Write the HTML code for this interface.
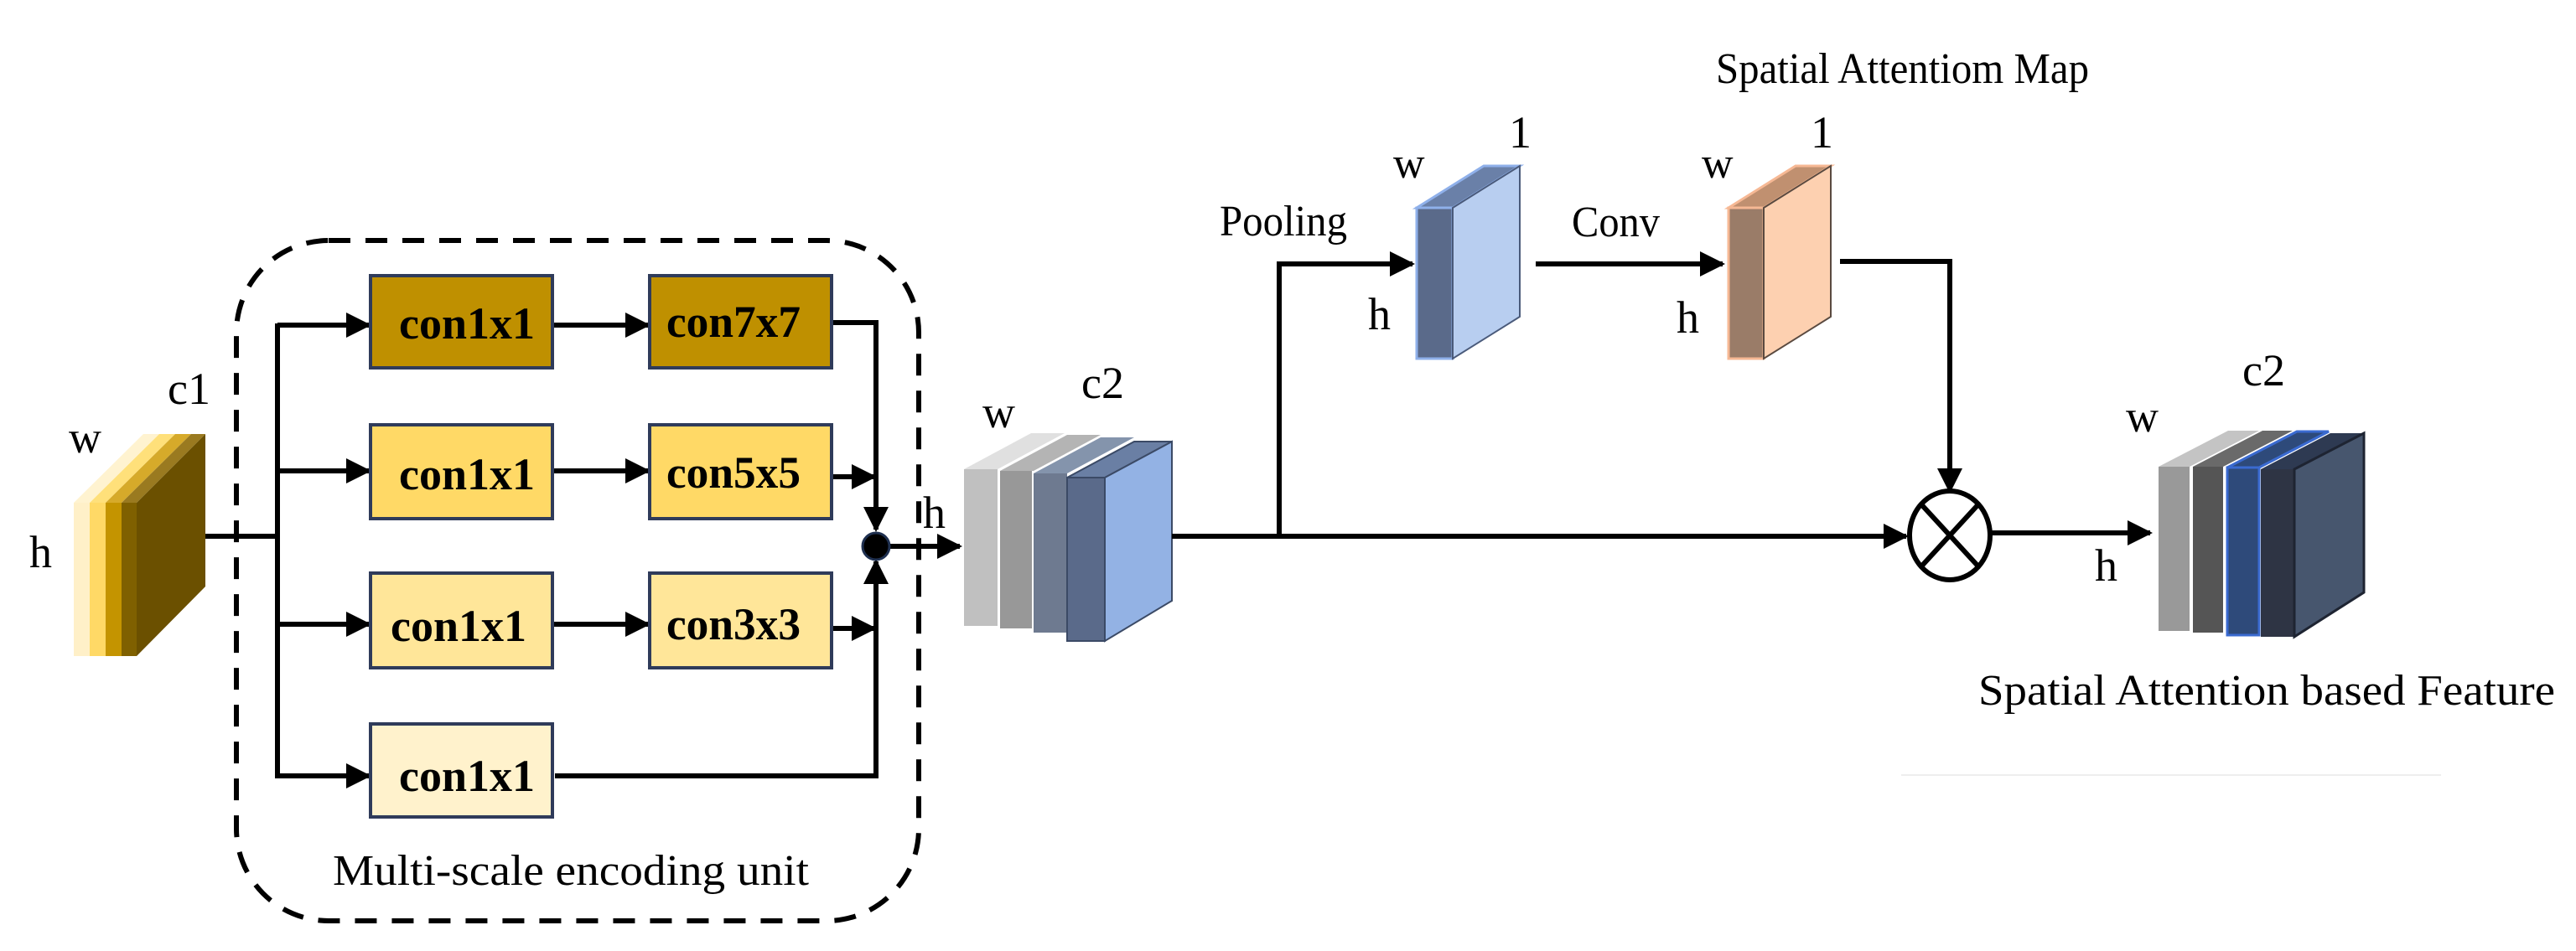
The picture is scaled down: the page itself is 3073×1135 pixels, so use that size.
<!DOCTYPE html>
<html><head><meta charset="utf-8"><style>html,body{margin:0;padding:0;background:#fff}svg{display:block}</style></head>
<body>
<svg width="3073" height="1135" viewBox="0 0 3073 1135" xmlns="http://www.w3.org/2000/svg" font-family="'Liberation Serif', serif">
<defs>
<marker id="a" viewBox="0 0 10 10" refX="9" refY="5" markerWidth="5" markerHeight="5" orient="auto" markerUnits="strokeWidth"><path d="M0,0 L10,5 L0,10 z" fill="#000"/></marker>
</defs>
<rect x="282" y="287" width="814" height="812" rx="110" fill="none" stroke="#000" stroke-width="6" stroke-dasharray="26,18"/>

<g>
<polygon points="88,600 171,518 190,518 107,600" fill="#fff3d0"/>
<rect x="88" y="600" width="19" height="183" fill="#fff0c8"/>
<polygon points="107,600 190,518 209,518 126,600" fill="#ffe07a"/>
<rect x="107" y="600" width="19" height="183" fill="#ffd966"/>
<polygon points="126,600 209,518 228,518 145,600" fill="#d6aa2a"/>
<rect x="126" y="600" width="19" height="183" fill="#c49400"/>
<polygon points="145,600 228,518 245,518 163,600" fill="#9a7a20"/>
<rect x="145" y="600" width="18" height="183" fill="#7f6000"/>
<polygon points="163,600 245,518 245,700 163,783" fill="#6b5000"/>
</g>
<text x="200" y="482" font-size="54">c1</text>
<text x="82" y="540" font-size="54">w</text>
<text x="35" y="677" font-size="54">h</text>

<g stroke="#000" stroke-width="6" fill="none">
<line x1="245" y1="640" x2="334" y2="640"/>
<line x1="331" y1="386" x2="331" y2="929"/>
<line x1="331" y1="388" x2="440" y2="388" marker-end="url(#a)"/>
<line x1="331" y1="562" x2="440" y2="562" marker-end="url(#a)"/>
<line x1="331" y1="745" x2="440" y2="745" marker-end="url(#a)"/>
<line x1="331" y1="926" x2="440" y2="926" marker-end="url(#a)"/>
<line x1="659" y1="388" x2="773" y2="388" marker-end="url(#a)"/>
<line x1="659" y1="562" x2="773" y2="562" marker-end="url(#a)"/>
<line x1="659" y1="745" x2="773" y2="745" marker-end="url(#a)"/>
<polyline points="992,385 1045,385 1045,632" marker-end="url(#a)"/>
<line x1="992" y1="569" x2="1043" y2="569" marker-end="url(#a)"/>
<line x1="992" y1="750" x2="1043" y2="750" marker-end="url(#a)"/>
<polyline points="662,926 1045,926 1045,670" marker-end="url(#a)"/>
<line x1="1045" y1="652" x2="1145" y2="652" marker-end="url(#a)"/>
</g>
<circle cx="1045" cy="652" r="16" fill="#000" stroke="#1f3050" stroke-width="3"/>

<g stroke="#2f3b5a" stroke-width="4">
<rect x="442" y="329" width="217" height="110" fill="#bf9000"/>
<rect x="775" y="329" width="217" height="110" fill="#bf9000"/>
<rect x="442" y="507" width="217" height="112" fill="#ffd966"/>
<rect x="775" y="507" width="217" height="112" fill="#ffd966"/>
<rect x="442" y="684" width="217" height="113" fill="#ffe699"/>
<rect x="775" y="684" width="217" height="113" fill="#ffe699"/>
<rect x="442" y="864" width="217" height="111" fill="#fff2cc"/>
</g>
<g font-size="54" font-weight="bold" lengthAdjust="spacingAndGlyphs">
<text x="476" y="404" textLength="162" lengthAdjust="spacingAndGlyphs">con1x1</text>
<text x="795" y="402" textLength="160" lengthAdjust="spacingAndGlyphs">con7x7</text>
<text x="476" y="584" textLength="162" lengthAdjust="spacingAndGlyphs">con1x1</text>
<text x="795" y="582" textLength="160" lengthAdjust="spacingAndGlyphs">con5x5</text>
<text x="466" y="765" textLength="162" lengthAdjust="spacingAndGlyphs">con1x1</text>
<text x="795" y="763" textLength="160" lengthAdjust="spacingAndGlyphs">con3x3</text>
<text x="476" y="944" textLength="162" lengthAdjust="spacingAndGlyphs">con1x1</text>
</g>
<text x="397" y="1056" font-size="52" textLength="568" lengthAdjust="spacingAndGlyphs">Multi-scale  encoding unit</text>

<g>
<polygon points="1150,560 1230,517 1270,517 1190,560" fill="#e0e0e0"/>
<rect x="1150" y="560" width="40" height="187" fill="#c0c0c0"/>
<polygon points="1193,562 1273,519 1313,519 1233,562" fill="#b4b4b4"/>
<rect x="1193" y="562" width="38" height="188" fill="#989898"/>
<polygon points="1233,565 1313,522 1353,522 1273,565" fill="#8494ac"/>
<rect x="1233" y="565" width="40" height="190" fill="#6e7a90"/>
<polygon points="1273,570 1353,527 1398,527 1318,570" fill="#6a7fa4" stroke="#3b4a66" stroke-width="2"/>
<rect x="1273" y="570" width="45" height="195" fill="#5a6a8a" stroke="#3b4a66" stroke-width="2"/>
<polygon points="1318,570 1398,527 1398,717 1318,765" fill="#93b2e4" stroke="#3b4a66" stroke-width="2"/>
</g>
<text x="1172" y="510" font-size="54">w</text>
<text x="1290" y="475" font-size="54">c2</text>
<text x="1101" y="630" font-size="54">h</text>

<g stroke="#000" stroke-width="6" fill="none">
<line x1="1398" y1="640" x2="2274" y2="640" marker-end="url(#a)"/>
<polyline points="1526,643 1526,315 1685,315" marker-end="url(#a)"/>
<line x1="1832" y1="315" x2="2055" y2="315" marker-end="url(#a)"/>
<polyline points="2195,312 2326,312 2326,586" marker-end="url(#a)"/>
<line x1="2376" y1="636" x2="2565" y2="636" marker-end="url(#a)"/>
</g>
<g stroke="#000" stroke-width="6" fill="none">
<ellipse cx="2326" cy="639" rx="48" ry="53" fill="#fff"/>
<line x1="2292" y1="602" x2="2360" y2="676"/>
<line x1="2360" y1="602" x2="2292" y2="676"/>
</g>

<g stroke="#8fb0ea" stroke-width="3">
<polygon points="1690,248 1770,198 1813,198 1733,248" fill="#6a80a8"/>
<rect x="1690" y="248" width="43" height="180" fill="#5a6a8a"/>
<polygon points="1733,248 1813,198 1813,378 1733,428" fill="#b8cef0" stroke="#4a5a7a" stroke-width="2"/>
</g>
<g stroke="#f6b894" stroke-width="3">
<polygon points="2062,248 2142,198 2184,198 2104,248" fill="#c09070"/>
<rect x="2062" y="248" width="42" height="180" fill="#9a7c68"/>
<polygon points="2104,248 2184,198 2184,378 2104,428" fill="#fdd0b0" stroke="#5a4a40" stroke-width="2"/>
</g>
<text x="1455" y="281" font-size="52" textLength="152" lengthAdjust="spacingAndGlyphs">Pooling</text>
<text x="1875" y="282" font-size="52" textLength="105" lengthAdjust="spacingAndGlyphs">Conv</text>
<text x="1662" y="212" font-size="52">w</text>
<text x="1800" y="176" font-size="54">1</text>
<text x="1632" y="393" font-size="54">h</text>
<text x="2030" y="212" font-size="52">w</text>
<text x="2160" y="176" font-size="54">1</text>
<text x="2000" y="397" font-size="54">h</text>
<text x="2047" y="99" font-size="52" textLength="445" lengthAdjust="spacingAndGlyphs">Spatial Attentiom Map</text>

<g>
<polygon points="2575,557 2658,514 2695,514 2612,557" fill="#c4c4c4"/>
<rect x="2575" y="557" width="37" height="196" fill="#999"/>
<polygon points="2616,557 2699,514 2735,514 2652,557" fill="#6a6a6a"/>
<rect x="2616" y="557" width="36" height="198" fill="#555"/>
<polygon points="2657,558 2740,515 2778,515 2695,558" fill="#2e4a7a" stroke="#3a6ad0" stroke-width="3"/>
<rect x="2657" y="558" width="38" height="200" fill="#2e4a7a" stroke="#3a6ad0" stroke-width="3"/>
<polygon points="2697,560 2780,517 2820,517 2737,560" fill="#2e3a52"/>
<rect x="2697" y="560" width="40" height="200" fill="#2e3444"/>
<polygon points="2737,560 2820,517 2820,707 2737,760" fill="#47566e" stroke="#1e2432" stroke-width="3"/>
</g>
<text x="2675" y="460" font-size="54">c2</text>
<text x="2536" y="515" font-size="54">w</text>
<text x="2499" y="693" font-size="54">h</text>
<text x="2360" y="841" font-size="52" textLength="688" lengthAdjust="spacingAndGlyphs">Spatial Attention based Feature</text>
<line x1="2268" y1="925" x2="2912" y2="925" stroke="#eee" stroke-width="2"/>
</svg>
</body></html>
